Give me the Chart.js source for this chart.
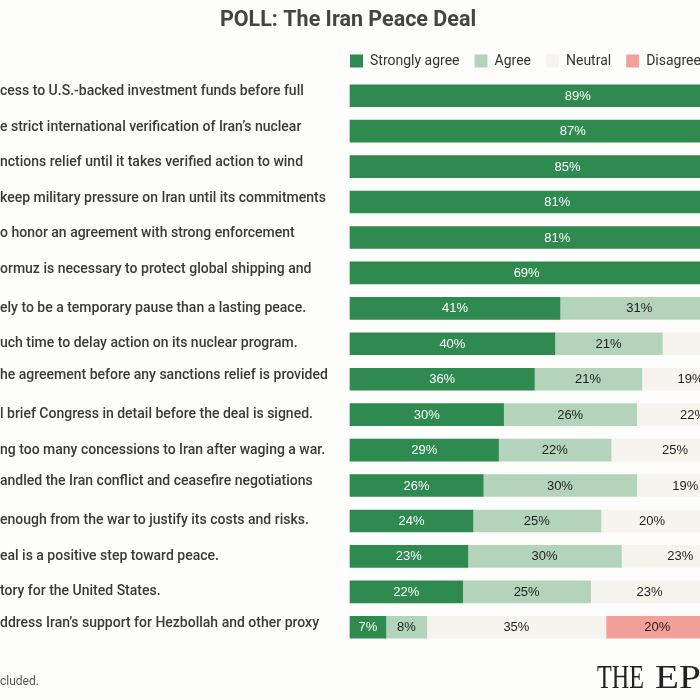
<!DOCTYPE html>
<html>
<head>
<meta charset="utf-8">
<script src="https://cdn.jsdelivr.net/npm/chart.js@4.4.1/dist/chart.umd.min.js"></script>
<style>
  html, body { margin: 0; padding: 0; background: #fdfdfc; overflow: hidden; width: 700px; height: 700px; }
  #wrap { position: absolute; left: 0; top: 0; width: 900px; height: 700px; }
</style>
</head>
<body>
<div id="wrap"><canvas id="c" width="900" height="700"></canvas></div>
<script>
// Category labels (visible fragments of the statements)
const statements = [
  ["cess to U.S.-backed investment funds before full", ""],
  ["e strict international verification of Iran\u2019s nuclear", ""],
  ["nctions relief until it takes verified action to wind", ""],
  ["keep military pressure on Iran until its commitments", ""],
  ["o honor an agreement with strong enforcement", ""],
  ["ormuz is necessary to protect global shipping and", ""],
  "ely to be a temporary pause than a lasting peace.",
  "uch time to delay action on its nuclear program.",
  ["he agreement before any sanctions relief is provided", ""],
  "l brief Congress in detail before the deal is signed.",
  "ng too many concessions to Iran after waging a war.",
  ["andled the Iran conflict and ceasefire negotiations", ""],
  "enough from the war to justify its costs and risks.",
  "eal is a positive step toward peace.",
  "tory for the United States.",
  ["ddress Iran\u2019s support for Hezbollah and other proxy", ""]
];

const seriesNames = ["Strongly agree", "Agree", "Neutral", "Disagree", "Strongly disagree"];

const stronglyAgree    = [89, 87, 85, 81, 81, 69, 41, 40, 36, 30, 29, 26, 24, 23, 22, 7];
const agree            = [7, 9, 9, 12, 12, 19, 31, 21, 21, 26, 22, 30, 25, 30, 25, 8];
const neutral          = [2, 2, 3, 4, 4, 7, 16, 25, 19, 22, 25, 19, 20, 23, 23, 35];
const disagree         = [1, 1, 2, 2, 2, 3, 7, 9, 14, 14, 13, 14, 18, 14, 17, 20];
const stronglyDisagree = [1, 1, 1, 1, 1, 2, 5, 5, 10, 8, 11, 11, 13, 10, 13, 30];

const colors = ["#2e8a4f", "#b3d4ba", "#f6f4ec", "#f4a09a", "#d9534f"];
const labelColors = ["#ffffff", "#1e1e1e", "#1e1e1e", "#1e1e1e", "#ffffff"];

const titleText = "POLL: The Iran Peace Deal";
const footText = "cluded.";
const logoWord1 = "THE";
const logoWord2 = "EPOCH TIMES";

const allSeries = [stronglyAgree, agree, neutral, disagree, stronglyDisagree];

const extras = {
  id: 'extras',
  afterDatasetsDraw(chart) {
    const ctx = chart.ctx;
    ctx.save();
    ctx.font = "13px 'Liberation Sans', Arial, sans-serif";
    ctx.textAlign = 'center';
    ctx.textBaseline = 'middle';
    chart.data.datasets.forEach((ds, di) => {
      const meta = chart.getDatasetMeta(di);
      meta.data.forEach((bar, i) => {
        const v = ds.data[i];
        if (!v) return;
        const cx = (bar.x + bar.base) / 2;
        ctx.fillStyle = labelColors[di];
        ctx.fillText(v + "%", cx, bar.y + 0.5);
      });
    });
    ctx.restore();
  },
  afterDraw(chart) {
    const ctx = chart.ctx;
    ctx.save();
    ctx.fillStyle = "#444444";
    ctx.font = "bold 21.5px Roboto, 'Liberation Sans', sans-serif";
    ctx.textAlign = 'center';
    ctx.textBaseline = 'middle';
    ctx.fillText(titleText, 348, 21);
    ctx.fillStyle = "#555555";
    ctx.font = "12px Roboto, 'Liberation Sans', sans-serif";
    ctx.textAlign = 'left';
    ctx.fillText(footText, 0, 682);
    ctx.fillStyle = "#222222";
    ctx.font = "34px 'Liberation Serif', 'DejaVu Serif', serif";
    ctx.textBaseline = 'alphabetic';
    ctx.save();
    ctx.translate(597, 688);
    ctx.scale(0.71, 1);
    ctx.fillText(logoWord1, 0, 0);
    ctx.restore();
    ctx.save();
    ctx.translate(655, 688);
    ctx.scale(1.15, 1);
    ctx.fillText(logoWord2, 0, 0);
    ctx.restore();
    ctx.restore();
  }
};

new Chart(document.getElementById('c'), {
  type: 'bar',
  data: {
    labels: statements,
    datasets: allSeries.map((arr, i) => ({
      label: seriesNames[i],
      data: arr,
      backgroundColor: colors[i],
      borderWidth: 0,
      barThickness: 22
    }))
  },
  options: {
    indexAxis: 'y',
    responsive: false,
    animation: false,
    devicePixelRatio: 1,
    layout: { padding: { top: 39, bottom: 55, left: 0, right: 38 } },
    plugins: {
      title: { display: false },
      tooltip: { enabled: false },
      legend: {
        display: true,
        position: 'top',
        align: 'start',
        fullSize: false,
        labels: {
          boxWidth: 13,
          boxHeight: 13,
          padding: 15,
          color: "#333333",
          font: { family: "Roboto, 'Liberation Sans', sans-serif", size: 14 }
        }
      }
    },
    scales: {
      x: {
        stacked: true,
        display: false,
        min: -2.93,
        max: 100,
        grid: { display: false }
      },
      y: {
        stacked: true,
        grid: { display: false },
        border: { display: false },
        afterFit(scale) { scale.width = 335; },
        ticks: {
          autoSkip: false,
          crossAlign: 'far',
          color: "#3a3a3a",
          font: { family: "Roboto, 'Liberation Sans', sans-serif", size: 14, weight: 500, lineHeight: 0.55 }
        }
      }
    }
  },
  plugins: [extras]
});
</script>
</body>
</html>
